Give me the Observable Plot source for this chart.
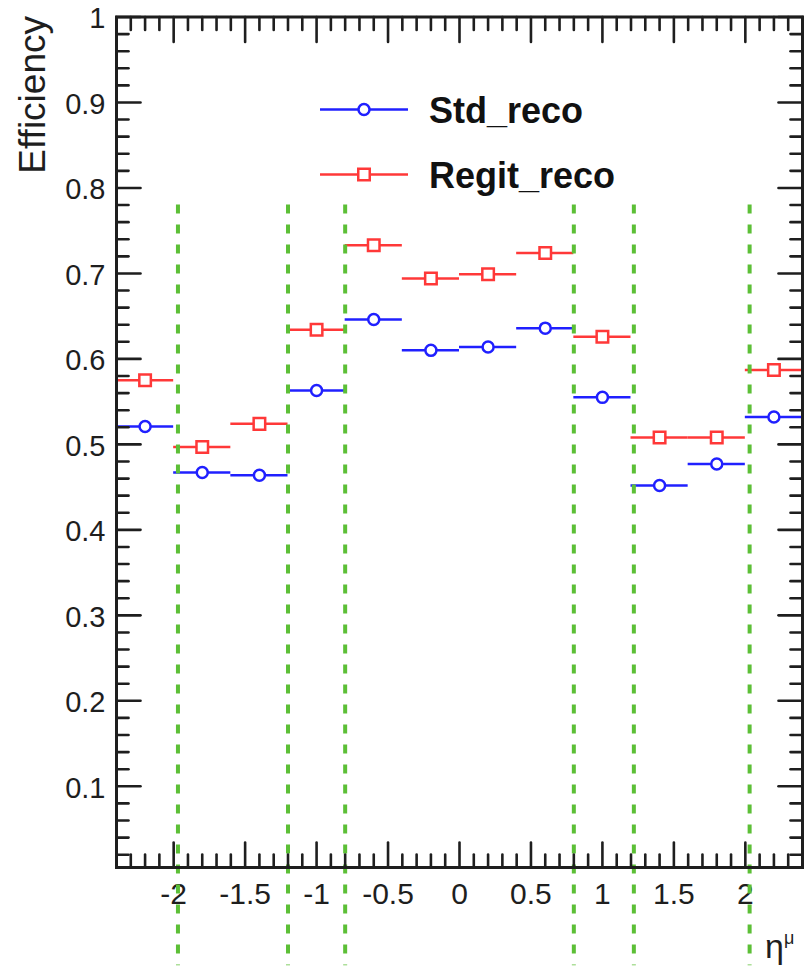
<!DOCTYPE html>
<html>
<head>
<meta charset="utf-8">
<script src="https://cdn.jsdelivr.net/npm/d3@7"></script>
<script src="https://cdn.jsdelivr.net/npm/@observablehq/plot@0.6"></script>
<style>
  html, body { margin: 0; padding: 0; background: #fff; }
  #chart { width: 804px; height: 971px; }
  svg { display: block; }
</style>
</head>
<body>
<div id="chart"></div>
<script>
// Muon reconstruction efficiency vs pseudorapidity, in 0.4-wide eta bins
const etaCenter = [-2.2, -1.8, -1.4, -1.0, -0.6, -0.2, 0.2, 0.6, 1.0, 1.4, 1.8, 2.2];
const etaLow    = [-2.4, -2.0, -1.6, -1.2, -0.8, -0.4, 0.0, 0.4, 0.8, 1.2, 1.6, 2.0];
const etaHigh   = [-2.0, -1.6, -1.2, -0.8, -0.4, 0.0, 0.4, 0.8, 1.2, 1.6, 2.0, 2.4];

const stdReco   = [0.521, 0.467, 0.464, 0.563, 0.646, 0.610, 0.614, 0.636, 0.555, 0.452, 0.477, 0.532];
const regitReco = [0.575, 0.497, 0.524, 0.634, 0.733, 0.694, 0.699, 0.724, 0.626, 0.508, 0.508, 0.587];

// detector region boundaries (dashed green lines) and their vertical span
const regionEdges = [-1.97, -1.2, -0.8, 0.8, 1.22, 2.03];
const regionSpan = [0.78, -0.11];

// axis tick positions and labels
const xMajorTicks = [-2, -1.5, -1, -0.5, 0, 0.5, 1, 1.5, 2];
const xTickLabels = ["-2", "-1.5", "-1", "-0.5", "0", "0.5", "1", "1.5", "2"];
const yMajorTicks = [0.1, 0.2, 0.3, 0.4, 0.5, 0.6, 0.7, 0.8, 0.9, 1.0];
const yTickLabels = ["0.1", "0.2", "0.3", "0.4", "0.5", "0.6", "0.7", "0.8", "0.9", "1"];
const xMinorTicks = d3.range(-24, 25).map(i => i / 10).filter(v => !xMajorTicks.some(m => Math.abs(m - v) < 1e-9));
const yMinorTicks = d3.range(1, 50).map(i => i / 50).filter(v => Math.abs(v * 10 - Math.round(v * 10)) > 1e-9);

const seriesNames = ["Std_reco", "Regit_reco"];
const blue = "#2020ff";
const red = "#ff3838";
const green = "#5cbf36";
const ink = "#1e1e1e";
const font = "'Liberation Sans', Arial, Helvetica, sans-serif";

const stdRows = etaCenter.map((e, i) => ({eta: e, lo: etaLow[i], hi: etaHigh[i], eff: stdReco[i]}));
const regitRows = etaCenter.map((e, i) => ({eta: e, lo: etaLow[i], hi: etaHigh[i], eff: regitReco[i]}));

// a plain straight tick, drawn as a vector shape
const tickShape = {draw(context, l) { context.moveTo(0, 0); context.lineTo(0, -l); }};
const ticks = (values, channel, anchor, rotate, length) =>
  Plot.vector(values, {[channel]: d => d, frameAnchor: anchor, rotate, length, anchor: "start",
    shape: tickShape, stroke: ink, strokeWidth: 2.6});

const xLabel = new Map(xMajorTicks.map((v, i) => [v, xTickLabels[i]]));
const yLabel = new Map(yMajorTicks.map((v, i) => [v, yTickLabels[i]]));

const svg = Plot.plot({
  width: 804,
  height: 971,
  marginLeft: 116,
  marginRight: 2,
  marginTop: 16.5,
  marginBottom: 104,
  style: {fontFamily: font, background: "#fff", color: ink},
  x: {domain: [-2.4, 2.4], nice: false},
  y: {domain: [0.005, 1], nice: false},
  marks: [
    Plot.axisX({ticks: xMajorTicks, tickSize: 0, tickPadding: 15, fontSize: 30, tickFormat: d => xLabel.get(d), label: null}),
    Plot.axisY({ticks: yMajorTicks, tickSize: 0, tickPadding: 11, fontSize: 29, dy: 2, tickFormat: d => yLabel.get(d), label: null}),
    // error bars spanning the bin width
    Plot.ruleY(stdRows, {y: "eff", x1: "lo", x2: "hi", stroke: blue, strokeWidth: 2.5}),
    Plot.ruleY(regitRows, {y: "eff", x1: "lo", x2: "hi", stroke: red, strokeWidth: 2.5}),
    // region boundaries
    Plot.ruleX(regionEdges, {x: d => d, y1: regionSpan[0], y2: regionSpan[1], stroke: green, strokeWidth: 4, strokeDasharray: "9,11", clip: false}),
    Plot.dot(stdRows, {x: "eta", y: "eff", r: 5.5, symbol: "circle", stroke: blue, fill: "#fff", strokeWidth: 2.5}),
    Plot.dot(regitRows, {x: "eta", y: "eff", r: 6.5, symbol: "square", stroke: red, fill: "#fff", strokeWidth: 2.5}),
    // inward ticks on all four sides
    ticks(xMajorTicks, "x", "bottom", 0, 25),
    ticks(xMinorTicks, "x", "bottom", 0, 13),
    ticks(xMajorTicks, "x", "top", 180, 25),
    ticks(xMinorTicks, "x", "top", 180, 13),
    ticks(yMajorTicks, "y", "left", 90, 24),
    ticks(yMinorTicks, "y", "left", 90, 12),
    ticks(yMajorTicks, "y", "right", -90, 24),
    ticks(yMinorTicks, "y", "right", -90, 12),
    Plot.frame({stroke: ink, strokeWidth: 3})
  ]
});

const root = d3.select(svg);

// y-axis title
root.append("text")
  .attr("transform", "translate(45,16) rotate(-90)")
  .attr("text-anchor", "end")
  .attr("font-family", font)
  .attr("font-size", 37)
  .attr("fill", ink)
  .text("Efficiency");

// x-axis title: eta with a mu superscript
const xt = root.append("text")
  .attr("x", 765).attr("y", 958)
  .attr("text-anchor", "start")
  .attr("font-family", font)
  .attr("fill", ink);
xt.append("tspan").attr("font-size", 34).text("η");
xt.append("tspan").attr("font-size", 18).attr("dy", -14).text("μ");

// legend
const legend = root.append("g").attr("font-family", font).attr("text-anchor", "start");
const legendRows = [
  {name: seriesNames[0], color: blue, y: 109.5, square: false},
  {name: seriesNames[1], color: red, y: 174.5, square: true}
];
for (const row of legendRows) {
  const g = legend.append("g");
  g.append("line").attr("x1", 320).attr("x2", 408).attr("y1", row.y).attr("y2", row.y)
    .attr("stroke", row.color).attr("stroke-width", 2.5);
  if (row.square) {
    g.append("rect").attr("x", 358.25).attr("y", row.y - 5.75).attr("width", 11.5).attr("height", 11.5)
      .attr("fill", "#fff").attr("stroke", row.color).attr("stroke-width", 2.5);
  } else {
    g.append("circle").attr("cx", 364).attr("cy", row.y).attr("r", 5.5)
      .attr("fill", "#fff").attr("stroke", row.color).attr("stroke-width", 2.5);
  }
  g.append("text").attr("x", 429).attr("y", row.y + 13)
    .attr("text-anchor", "start")
    .attr("font-size", 36).attr("font-weight", "bold").attr("fill", "#111")
    .text(row.name);
}

document.getElementById("chart").appendChild(svg);
</script>
</body>
</html>
